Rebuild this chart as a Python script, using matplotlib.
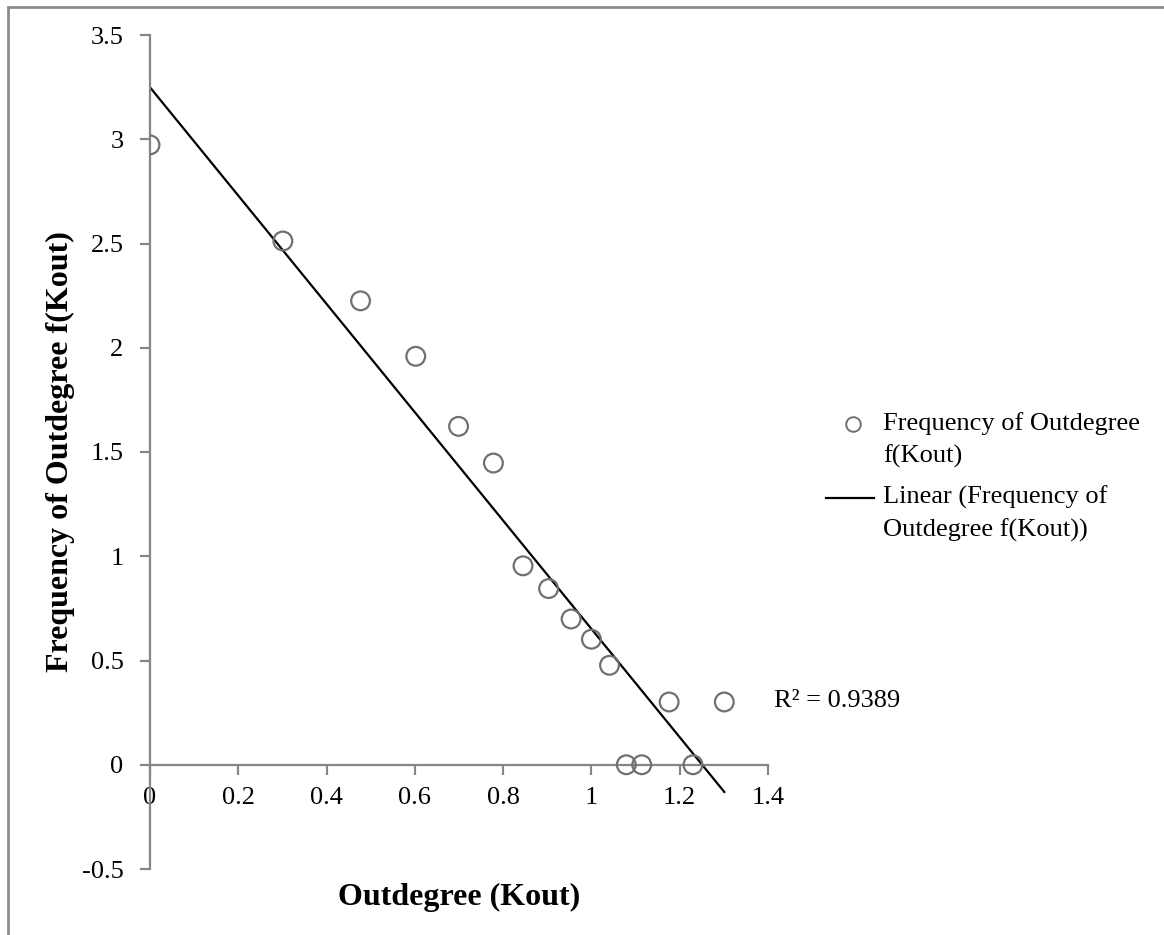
import numpy as np
import matplotlib
matplotlib.use('Agg')
import matplotlib.pyplot as plt
from matplotlib.lines import Line2D
from matplotlib.patches import Rectangle

plt.rcParams['font.family'] = ['Liberation Serif', 'DejaVu Serif']

# log10 of outdegree and log10 of its frequency
kout = [0.000, 0.301, 0.477, 0.602, 0.699, 0.778, 0.845, 0.903, 0.954,
        1.000, 1.041, 1.079, 1.114, 1.176, 1.230, 1.301]
fkout = [2.973, 2.512, 2.225, 1.959, 1.623, 1.447, 0.954, 0.845, 0.699,
         0.602, 0.477, 0.000, 0.000, 0.301, 0.000, 0.301]
r2_text = 'R² = 0.9389'

x = np.array(kout)
y = np.array(fkout)
slope, icpt = np.polyfit(x, y, 1)

W, H = 1164, 935
fig = plt.figure(figsize=(W / 100, H / 100), dpi=100)
ax = fig.add_axes([150 / W, 1 - 869 / H, 618 / W, 834 / H])

gray = '#868686'
ax.scatter(x, y, s=13.5 ** 2, facecolors='none', edgecolors='#707070', linewidths=1.6, zorder=3)
xf = np.array([x.min(), x.max()])
ax.plot(xf, icpt + slope * xf, color='black', lw=1.6, zorder=2)

ax.set_xlim(0, 1.4)
ax.set_ylim(-0.5, 3.5)
ax.set_xticks(np.arange(0, 1.41, 0.2))
ax.set_yticks(np.arange(-0.5, 3.51, 0.5))
ax.set_xticklabels(['0', '0.2', '0.4', '0.6', '0.8', '1', '1.2', '1.4'])
ax.set_yticklabels(['-0.5', '0', '0.5', '1', '1.5', '2', '2.5', '3', '3.5'])

for s in ['top', 'right']:
    ax.spines[s].set_visible(False)
ax.spines['bottom'].set_position(('data', 0))
for s in ['left', 'bottom']:
    ax.spines[s].set_color(gray)
    ax.spines[s].set_linewidth(1.6)
ax.tick_params(axis='both', direction='out', length=7, width=1.6, color=gray,
               labelsize=19, labelcolor='black')
ax.tick_params(axis='x', pad=9)
ax.tick_params(axis='y', pad=12)

ax.set_xlabel('Outdegree (Kout)', fontsize=23, fontweight='bold')
ax.xaxis.set_label_coords(0.5, -0.017)
ax.set_ylabel('Frequency of Outdegree f(Kout)', fontsize=23, fontweight='bold')
ax.yaxis.set_label_coords(-0.121, 0.5)

ax.text(1.413, 0.307, r2_text, fontsize=19, va='center', ha='left', clip_on=False)

# legend on the right
fig.add_artist(Line2D([853 / W], [1 - 424 / H], marker='o', ms=10.5, mfc='none',
                      mec='#707070', mew=1.4, ls='none'))
fig.text(883 / W, 1 - 424 / H, 'Frequency of Outdegree', fontsize=19, va='center')
fig.text(883 / W, 1 - 456 / H, 'f(Kout)', fontsize=19, va='center')
fig.add_artist(Line2D([826 / W, 874 / W], [1 - 498 / H, 1 - 498 / H], color='black', lw=1.6))
fig.text(883 / W, 1 - 497 / H, 'Linear (Frequency of', fontsize=19, va='center')
fig.text(883 / W, 1 - 530 / H, 'Outdegree f(Kout))', fontsize=19, va='center')

# chart border
fig.add_artist(Rectangle((7.5 / W, -0.05), 1.1, 1 - 6.5 / H + 0.05, fill=False,
                         edgecolor='#8c8c8c', lw=2))

fig.savefig('out.png', dpi=100)
